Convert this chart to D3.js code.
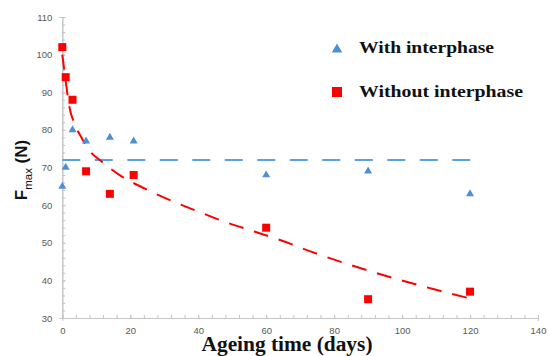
<!DOCTYPE html>
<html><head><meta charset="utf-8">
<script src="https://cdn.jsdelivr.net/npm/d3@7"></script>
<style>body{margin:0;background:#fff;} svg{display:block;}</style>
</head><body>
<svg id="c" width="549" height="356"></svg>
<script>
// Data
const days = [0, 1, 3, 7, 14, 21, 60, 90, 120];
const withInterphase = [65, 70, 80, 77, 78, 77, 68, 69, 63];
const withoutInterphase = [102, 94, 88, 69, 63, 68, 54, 35, 37];
// Trend lines
const meanLineX = [0, 122];
const meanLineY = [72, 72];
const trendX = [0, 1, 2, 3.7, 5.5, 8, 11.4, 17, 24.5, 32, 40, 48, 56.5, 64.5, 73, 82.4, 91.8, 101, 110, 120];
const trendY = [100, 93, 86.5, 81.4, 78.2, 74.5, 71.7, 67.9, 64.3, 61.2, 58.3, 55.5, 53, 50.6, 47.7, 44.8, 42.1, 39.7, 37.5, 35.2];
const xTicks = [0, 20, 40, 60, 80, 100, 120, 140];
const yTicks = [30, 40, 50, 60, 70, 80, 90, 100, 110];
const legendLabels = ["With interphase", "Without interphase"];

const svg = d3.select("#c");
const x = d3.scaleLinear().domain([0, 140]).range([62.3, 538]);
const y = d3.scaleLinear().domain([30, 110]).range([318, 17]);

const axisColor = "#c4c4c4", labelColor = "#595959";
const red = "#ff0000", blueMark = "#4e8fd3", blueLine = "#5aa2e2";

// minor ticks
const gx = svg.append("g").attr("transform", `translate(0,${y(30)})`)
  .call(d3.axisBottom(x).tickValues(d3.range(0, 141, 4)).tickSize(-3).tickFormat(""));
const gy = svg.append("g").attr("transform", `translate(${x(0)},0)`)
  .call(d3.axisLeft(y).tickValues(d3.range(30, 111, 2)).tickSize(-3).tickFormat(""));
// major ticks + labels
const gx2 = svg.append("g").attr("transform", `translate(0,${y(30)})`)
  .call(d3.axisBottom(x).tickValues(xTicks).tickSize(3).tickPadding(6).tickFormat(d3.format("d")));
const gy2 = svg.append("g").attr("transform", `translate(${x(0)},0)`)
  .call(d3.axisLeft(y).tickValues(yTicks).tickSize(3).tickPadding(7).tickFormat(d3.format("d")));
[gx, gy, gx2, gy2].forEach(g => {
  g.selectAll("path.domain").attr("stroke", axisColor).attr("stroke-width", 1);
  g.selectAll(".tick line").attr("stroke", axisColor);
  g.selectAll(".tick text").attr("fill", labelColor)
    .style("font-family", "'Liberation Sans', Arial, sans-serif").style("font-size", "9.5px");
});
gx2.selectAll(".tick line").attr("y1", -3).attr("y2", 0);
gy2.selectAll(".tick line").attr("x1", 0).attr("x2", 3);

// mean line (with interphase)
const line = d3.line().x(d => x(d[0])).y(d => y(d[1]));
svg.append("path").datum(d3.zip(meanLineX, meanLineY)).attr("d", line)
  .attr("fill", "none").attr("stroke", blueLine).attr("stroke-width", 2)
  .attr("stroke-dasharray", "18,14.5");

// trend line (without interphase)
const curve = d3.line().x(d => x(d[0])).y(d => y(d[1])).curve(d3.curveMonotoneX);
svg.append("path").datum(d3.zip(trendX, trendY)).attr("d", curve)
  .attr("fill", "none").attr("stroke", red).attr("stroke-width", 2)
  .attr("stroke-dasharray", "15,11");

// markers
const tri = d3.symbol().type(d3.symbolTriangle).size(28);
svg.append("g").selectAll("path").data(d3.zip(days, withInterphase)).join("path")
  .attr("d", tri).attr("transform", d => `translate(${x(d[0])},${y(d[1])})`)
  .attr("fill", blueMark);
svg.append("g").selectAll("rect").data(d3.zip(days, withoutInterphase)).join("rect")
  .attr("x", d => x(d[0]) - 4).attr("y", d => y(d[1]) - 4)
  .attr("width", 8).attr("height", 8).attr("fill", red);

// legend
const serif = "'Liberation Serif', 'Times New Roman', serif";
svg.append("path").attr("d", d3.symbol().type(d3.symbolTriangle).size(48))
  .attr("transform", "translate(337,49.5)").attr("fill", blueMark);
svg.append("rect").attr("x", 332).attr("y", 87).attr("width", 10).attr("height", 10).attr("fill", red);
const legW = [135, 164];
svg.selectAll("text.leg").data(legendLabels).join("text").attr("class", "leg")
  .attr("x", 359).attr("y", (d, i) => i === 0 ? 53 : 97)
  .attr("textLength", (d, i) => legW[i]).attr("lengthAdjust", "spacingAndGlyphs")
  .style("font-family", serif).style("font-weight", "bold").style("font-size", "17px")
  .attr("fill", "#111").text(d => d);

// x title
svg.append("text").attr("x", 201.5).attr("y", 351)
  .attr("textLength", 171).attr("lengthAdjust", "spacingAndGlyphs")
  .style("font-family", serif).style("font-weight", "bold").style("font-size", "20px")
  .attr("fill", "#111").text("Ageing time (days)");

// y title
const yt = svg.append("text").attr("transform", "translate(27,170) rotate(-90)")
  .attr("text-anchor", "middle")
  .style("font-family", "'Liberation Sans', Arial, sans-serif").style("font-weight", "bold")
  .attr("fill", "#111");
yt.append("tspan").style("font-size", "17px").text("F");
yt.append("tspan").style("font-size", "11.5px").style("font-weight", "normal").attr("dy", 5).text("max");
yt.append("tspan").style("font-size", "17px").attr("dy", -5).text(" (N)");
</script>
</body></html>
